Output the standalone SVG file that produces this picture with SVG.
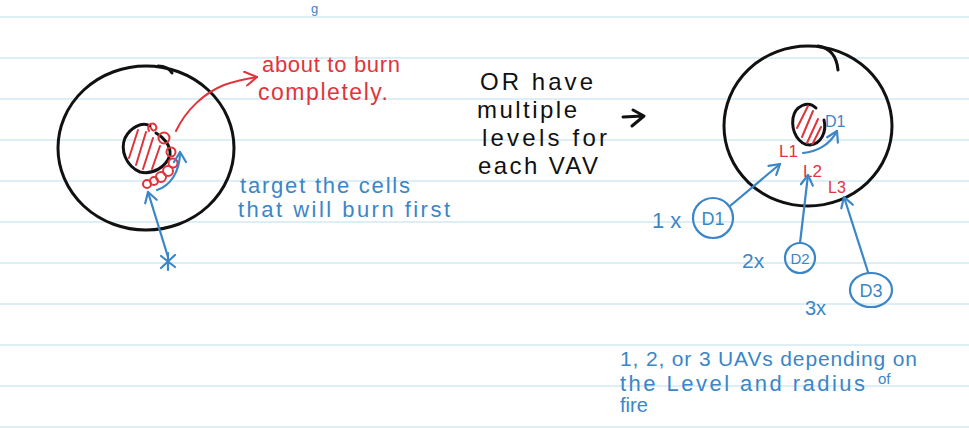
<svg xmlns="http://www.w3.org/2000/svg" width="969" height="428" viewBox="0 0 969 428">
<defs>
<style>
.rule{stroke:#d3e9f2;stroke-width:1.3}
.blk{fill:none;stroke:#111;stroke-width:3;stroke-linecap:round;stroke-linejoin:round}
.red{fill:none;stroke:#e0343c;stroke-width:2;stroke-linecap:round;stroke-linejoin:round}
.blue{fill:none;stroke:#3b86c6;stroke-width:2.2;stroke-linecap:round;stroke-linejoin:round}
.tb{font-family:"Liberation Sans",Arial,sans-serif;fill:#3b86c6}
.tr{font-family:"Liberation Sans",Arial,sans-serif;fill:#e0343c}
.tk{font-family:"Liberation Sans",Arial,sans-serif;fill:#111}
</style>
<marker id="hb" viewBox="0 0 14 14" refX="12" refY="7" markerWidth="14" markerHeight="14" markerUnits="userSpaceOnUse" orient="auto">
<path d="M2,1 L12,7 L2,13" fill="none" stroke="#3b86c6" stroke-width="2.2" stroke-linecap="round" stroke-linejoin="round"/>
</marker>
<marker id="hr" viewBox="0 0 16 16" refX="14" refY="8" markerWidth="16" markerHeight="16" markerUnits="userSpaceOnUse" orient="auto">
<path d="M2,1 L14,8 L3,15" fill="none" stroke="#e0343c" stroke-width="2" stroke-linecap="round" stroke-linejoin="round"/>
</marker>
<clipPath id="cl1"><path d="M150,126 C142,121 130,128 125,138 C120,150 126,166 140,172 C153,175 166,167 170,155 C171,145 163,137 156,133 Z"/></clipPath>
<clipPath id="cl2"><ellipse cx="809" cy="125" rx="17" ry="20"/></clipPath>
</defs>
<rect width="969" height="428" fill="#fff"/>
<g id="ruling">
<line class="rule" x1="0" y1="17" x2="969" y2="17"/>
<line class="rule" x1="0" y1="58" x2="969" y2="58"/>
<line class="rule" x1="0" y1="99" x2="969" y2="99"/>
<line class="rule" x1="0" y1="140" x2="969" y2="140"/>
<line class="rule" x1="0" y1="181" x2="969" y2="181"/>
<line class="rule" x1="0" y1="222" x2="969" y2="222"/>
<line class="rule" x1="0" y1="263" x2="969" y2="263"/>
<line class="rule" x1="0" y1="304" x2="969" y2="304"/>
<line class="rule" x1="0" y1="345" x2="969" y2="345"/>
<line class="rule" x1="0" y1="386" x2="969" y2="386"/>
<line class="rule" x1="0" y1="427" x2="969" y2="427"/>
</g>
<text class="tb" x="311" y="13" font-size="13">g</text>

<g id="left-fire">
<ellipse class="blk" cx="146" cy="148" rx="88" ry="82"/>
<path class="blk" d="M158,66 Q168,66 172,73" stroke-width="2"/>
<path class="blk" d="M150,126 C142,121 130,128 125,138 C120,150 126,166 140,172 C153,175 166,167 170,155 C171,145 163,137 156,133" stroke-width="2.6"/>
<g clip-path="url(#cl1)" class="red">
<line x1="138" y1="130" x2="129" y2="158"/>
<line x1="146" y1="132" x2="136" y2="165"/>
<line x1="153" y1="138" x2="143" y2="169"/>
<line x1="160" y1="146" x2="152" y2="169"/>
</g>
</g>
<g id="left-cells" class="red">
<path d="M149,131 C146,124 154,121 156,126 C158,131 152,132 151,128"/>
<circle cx="164" cy="138" r="5.5"/>
<circle cx="171" cy="152" r="4.5"/>
<circle cx="173" cy="163" r="4.5"/>
<circle cx="168" cy="171" r="5"/>
<circle cx="161" cy="177" r="5"/>
<circle cx="154" cy="181" r="4"/>
<circle cx="147" cy="184" r="4"/>
</g>
<g id="uav-star" class="blue">
<path d="M161,256 L175,267 M175,255 L161,268 M168,253 L168,270"/>
</g>
<g id="label-about">
<text class="tr" x="262" y="72" font-size="22" textLength="138" lengthAdjust="spacing">about to burn</text>
<text class="tr" x="258" y="100" font-size="23" textLength="130" lengthAdjust="spacing">completely.</text>
</g>
<g id="label-target">
<text class="tb" x="240" y="193" font-size="22" textLength="170" lengthAdjust="spacing">target the cells</text>
<text class="tb" x="238" y="217" font-size="22" textLength="212" lengthAdjust="spacing">that will burn first</text>
</g>
<g id="label-or">
<text class="tk" x="480" y="90" font-size="24" textLength="113" lengthAdjust="spacing">OR have</text>
<text class="tk" x="477" y="118" font-size="24" textLength="100" lengthAdjust="spacing">multiple</text>
<text class="tk" x="482" y="146" font-size="24" textLength="125" lengthAdjust="spacing">levels for</text>
<text class="tk" x="478" y="174" font-size="24" textLength="120" lengthAdjust="spacing">each VAV</text>
</g>
<g id="arrow-right" class="blk" stroke-width="2">
<path d="M623,117 L643,116 M633,110 L644,116 L632,126"/>
</g>

<g id="right-fire">
<ellipse class="blk" cx="808" cy="126" rx="84" ry="80"/>
<path class="blk" d="M818,46 Q836,49 838,70" stroke-width="2.4"/>
<path class="blk" d="M816,108 C808,100 795,106 793,118 C791,132 799,145 810,145 C821,144 827,132 824,120" stroke-width="2.6"/>
<g clip-path="url(#cl2)" class="red">
<line x1="808" y1="106" x2="797" y2="128"/>
<line x1="813" y1="111" x2="802" y2="137"/>
<line x1="818" y1="119" x2="807" y2="143"/>
<line x1="821" y1="127" x2="812" y2="145"/>
</g>
<text class="tb" x="825" y="127" font-size="16">D1</text>
</g>
<g id="levels">
<text class="tr" x="779" y="157" font-size="17">L1</text>
<text class="tr" x="803" y="177" font-size="17">L2</text>
<text class="tr" x="828" y="193" font-size="16">L3</text>
</g>
<g id="node-d1">
<text class="tb" x="652" y="228" font-size="22">1 x</text>
<circle class="blue" cx="713" cy="218" r="20"/>
<text class="tb" x="713" y="225" font-size="18" text-anchor="middle">D1</text>
</g>
<g id="node-d2">
<text class="tb" x="742" y="268" font-size="21">2x</text>
<circle class="blue" cx="800" cy="258" r="15"/>
<text class="tb" x="800" y="264" font-size="15" text-anchor="middle">D2</text>
</g>
<g id="node-d3">
<text class="tb" x="805" y="315" font-size="20">3x</text>
<ellipse class="blue" cx="871" cy="290" rx="21" ry="17"/>
<text class="tb" x="871" y="297" font-size="18" text-anchor="middle">D3</text>
</g>
<g id="summary">
<text class="tb" x="620" y="366" font-size="21" textLength="297" lengthAdjust="spacing">1, 2, or 3 UAVs depending on</text>
<text class="tb" x="620" y="391" font-size="22" textLength="245" lengthAdjust="spacing">the Level and radius</text>
<text class="tb" x="878" y="384" font-size="15">of</text>
<text class="tb" x="620" y="412" font-size="20">fire</text>
</g>

<g id="connectors">
<path class="red" d="M176,131 C186,110 204,93 224,85 C238,80 250,78 257,77" marker-end="url(#hr)"/>
<path class="blue" d="M157,190 C170,186 180,172 180,152" marker-end="url(#hb)"/>
<path class="blue" d="M168,257 L148,192" marker-end="url(#hb)"/>
<path class="blue" d="M803,153 C816,152 830,145 837,131" marker-end="url(#hb)"/>
<path class="blue" d="M730,206 L780,164" marker-end="url(#hb)"/>
<path class="blue" d="M800,243 L808,175" marker-end="url(#hb)"/>
<path class="blue" d="M868,272 L844,197" marker-end="url(#hb)"/>
</g>
</svg>
